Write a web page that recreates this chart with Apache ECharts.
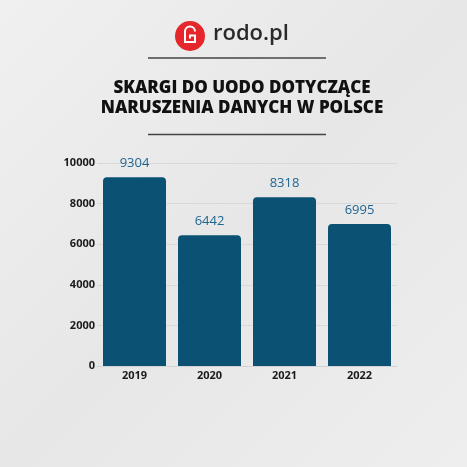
<!DOCTYPE html>
<html>
<head>
<meta charset="utf-8">
<script src="https://cdn.jsdelivr.net/npm/echarts@6/dist/echarts.min.js"></script>
<style>
html,body{margin:0;padding:0;}
#c{width:467px;height:467px;}
</style>
</head>
<body>
<div id="c"></div>
<script>
var categories = ['2019', '2020', '2021', '2022'];
var complaints = [9304, 6442, 8318, 6995];
var yTicks = [0, 2000, 4000, 6000, 8000, 10000];
var titleText = 'SKARGI DO UODO DOTYCZĄCE\nNARUSZENIA DANYCH W POLSCE';
var brandText = 'rodo.pl';

var chart = echarts.init(document.getElementById('c'), null, {renderer: 'canvas'});
var option = {
  backgroundColor: {
    type: 'linear', x: 0, y: 0, x2: 1, y2: 1,
    colorStops: [
      {offset: 0, color: '#f0f0f0'},
      {offset: 0.5, color: '#e7e7e7'},
      {offset: 1, color: '#eeeeee'}
    ]
  },
  animation: false,
  graphic: [
    {type: 'circle', shape: {cx: 190, cy: 36, r: 15}, style: {fill: '#e5262b'}},
    {type: 'arc', shape: {cx: 190, cy: 31.5, r: 5, startAngle: Math.PI, endAngle: 2 * Math.PI, clockwise: true},
      style: {stroke: '#ffffff', lineWidth: 2, fill: null}},
    {type: 'polyline', shape: {points: [[185, 31], [185, 42], [195, 42], [195, 35.5], [190, 35.5], [190, 38.5]]},
      style: {stroke: '#ffffff', lineWidth: 2, fill: null}},
    {type: 'text', x: 213, y: 23, style: {text: brandText, fontFamily: 'Open Sans', fontSize: 22, fontWeight: 600, fill: '#2a2a2a'}},
    {type: 'line', shape: {x1: 148, y1: 58, x2: 326, y2: 58}, style: {stroke: '#444444', lineWidth: 1.5}},
    {type: 'text', x: 242, y: 78, style: {text: titleText, textAlign: 'center', fontFamily: 'Open Sans', fontSize: 17, fontWeight: 800, fill: '#111111', lineHeight: 20}},
    {type: 'line', shape: {x1: 148, y1: 134.5, x2: 326, y2: 134.5}, style: {stroke: '#444444', lineWidth: 1.5}}
  ],
  grid: {left: 97, right: 70, top: 163, bottom: 101, containLabel: false},
  xAxis: {
    type: 'category',
    data: categories,
    axisLine: {show: true, lineStyle: {color: '#d2d2d2'}},
    axisTick: {show: false},
    axisLabel: {fontFamily: 'Open Sans', fontSize: 11, fontWeight: 700, color: '#1a1a1a', margin: 4}
  },
  yAxis: {
    type: 'value',
    min: yTicks[0],
    max: yTicks[yTicks.length - 1],
    interval: yTicks[1] - yTicks[0],
    axisLine: {show: false},
    axisTick: {show: false},
    splitLine: {lineStyle: {color: '#d9d9d9', width: 1}},
    axisLabel: {fontFamily: 'Open Sans', fontSize: 11, fontWeight: 700, color: '#1a1a1a', margin: 2,
      formatter: function (v) { return String(v); }}
  },
  series: [{
    type: 'bar',
    data: complaints,
    barWidth: 63,
    itemStyle: {color: '#0b5174', borderRadius: [4, 4, 0, 0]},
    label: {
      show: true,
      position: 'top',
      distance: 7,
      fontFamily: 'Open Sans',
      fontSize: 13,
      color: '#1f6591'
    }
  }]
};
chart.setOption(option);
</script>
</body>
</html>
